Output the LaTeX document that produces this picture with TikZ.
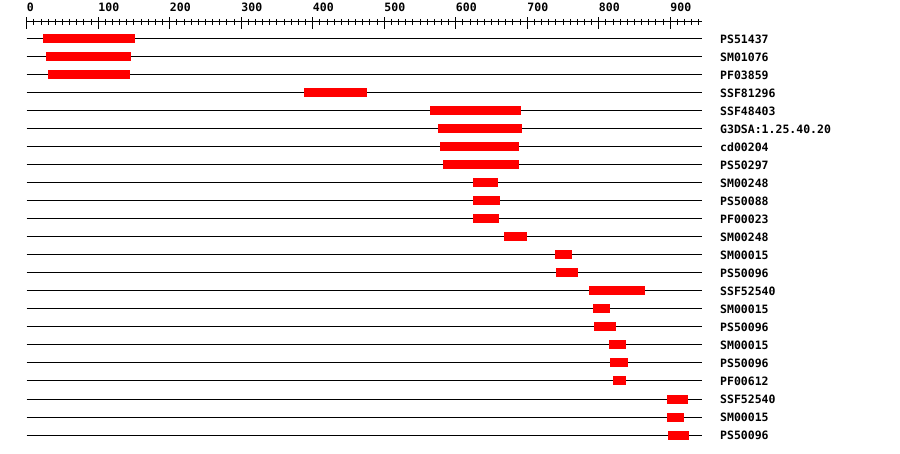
\documentclass[tikz,border=0pt]{standalone}
\usepackage{fontspec}
\setmonofont{DejaVu Sans Mono}
\usetikzlibrary{positioning}

\begin{document}
\begin{tikzpicture}[x=1pt,y=-1pt,
    track/.style={line width=1pt},
    hit/.style={fill=red},
    dom/.style={anchor=west,inner sep=0pt,font=\ttfamily\bfseries\fontsize{11.5}{12}\selectfont},
    ticklbl/.style={anchor=base west,inner sep=0pt,font=\ttfamily\bfseries\fontsize{11.5}{12}\selectfont}]

    \useasboundingbox (0,0) rectangle (900,454);

    \begin{scope}[xshift=26.7pt,x=0.7151pt]
    % ruler
    \coordinate (a0) at (0,22);
    \coordinate (a1) at (944,22);
    \draw[track] (a0) -- (a1);
    \foreach \t in {0,10,...,940}
        \draw[track] (\t,19) -- (\t,25.3);
    \foreach \t in {0,100,...,900} {
        \draw[track] (\t,17.3) -- (\t,28.7);
        \node[ticklbl] (p\t) at (\t,12) {\t};
    }

    % domain tracks
    \foreach [count=\i] \a/\b/\n in {
        22.8/151.4/PS51437, 27/145.9/SM01076, 29.8/144/PF03859,
        387.8/475.9/SSF81296, 564/690.8/SSF48403, 575.2/692.6/G3DSA:1.25.40.20,
        578/688.4/cd00204, 582.2/688.4/PS50297, 624.1/659.1/SM00248,
        624.1/661.9/PS50088, 624.1/660.5/PF00023, 667.5/699.6/SM00248,
        738.8/762.6/SM00015, 740.2/771/PS50096, 786.3/864.6/SSF52540,
        791.9/815.7/SM00015, 793.3/824/PS50096, 814.3/838.1/SM00015,
        815.7/840.9/PS50096, 819.9/838.1/PF00612, 895.5/924.9/SSF52540,
        895.5/919.3/SM00015, 896.9/926.3/PS50096} {
        \pgfmathsetmacro\yy{39+18*(\i-1)}
        \coordinate (s\i) at (0,\yy);
        \coordinate (e\i) at (944,\yy);
        \draw[track] (s\i) -- (e\i);
        \fill[hit] (\a,\yy-4.5) rectangle (\b,\yy+4.5);
        \node[dom] (d\i) at (969.5,\yy) {\n};
    }
    \end{scope}

\end{tikzpicture}
\end{document}
